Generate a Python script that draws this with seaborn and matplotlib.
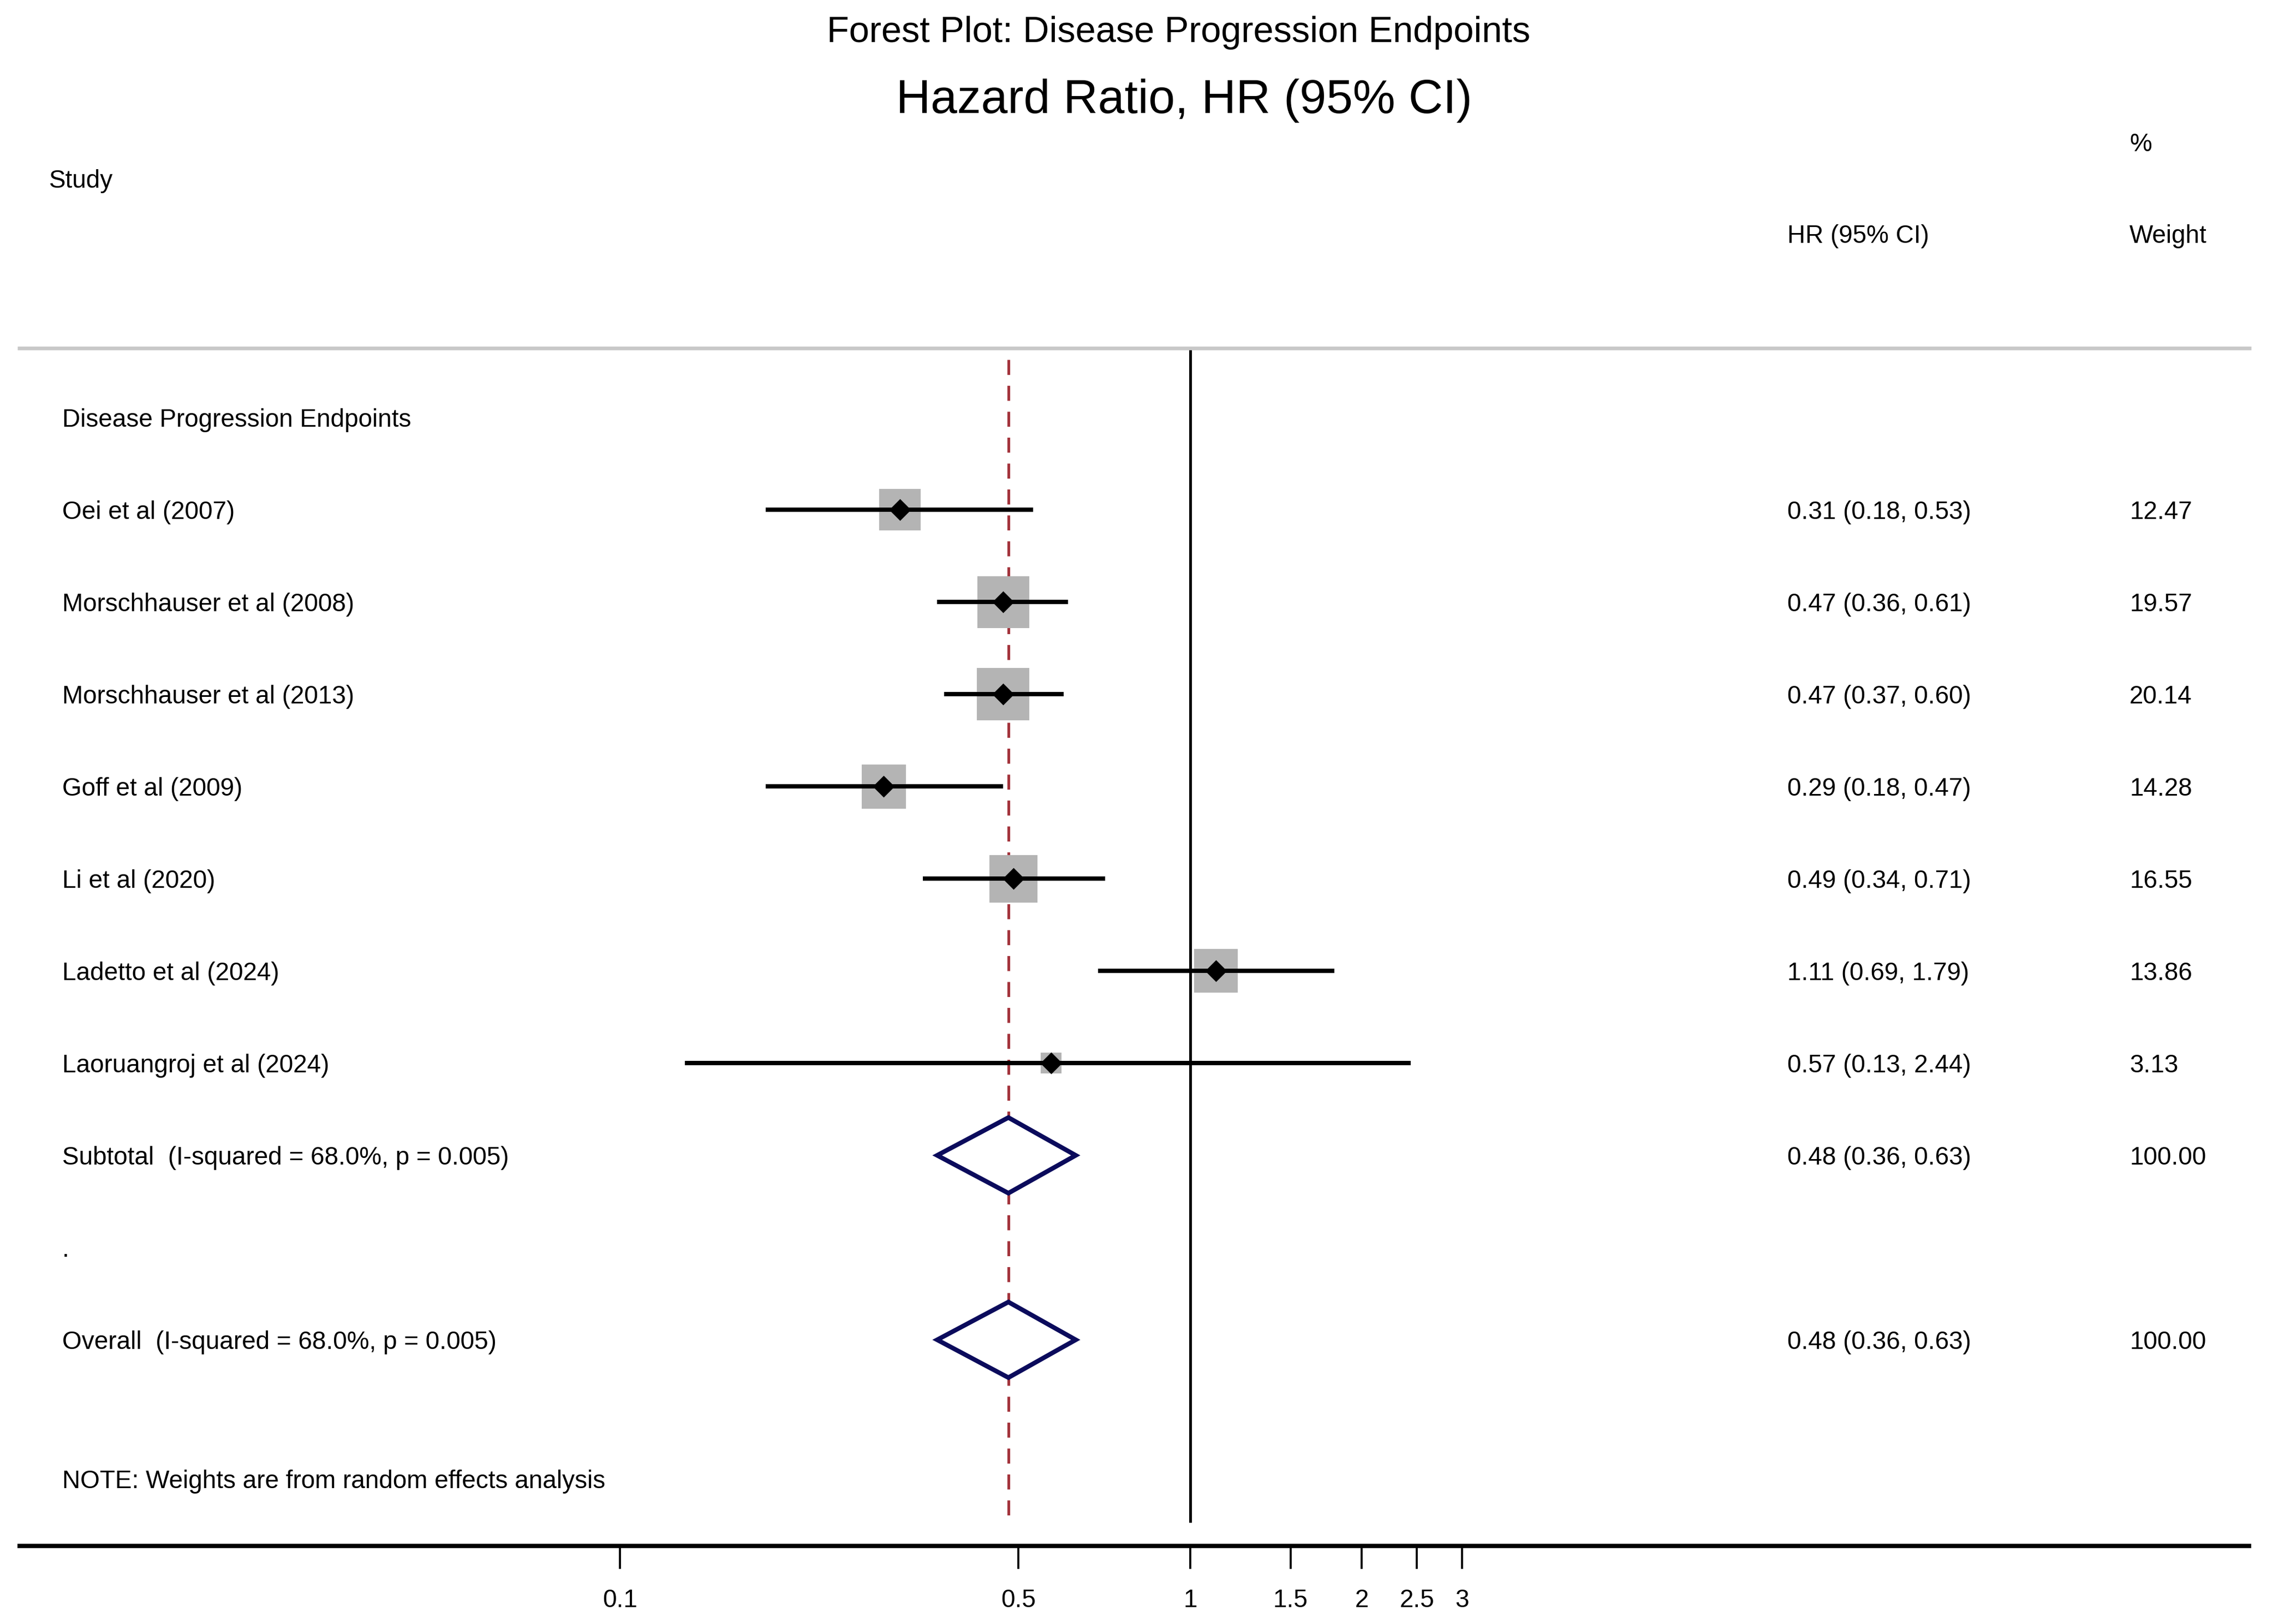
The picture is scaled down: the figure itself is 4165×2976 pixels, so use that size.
import numpy as np
import pandas as pd
import matplotlib
matplotlib.use("Agg")
import matplotlib.pyplot as plt
import seaborn as sns

# ---------------- data ----------------
studies = ["Oei et al (2007)", "Morschhauser et al (2008)", "Morschhauser et al (2013)",
           "Goff et al (2009)", "Li et al (2020)", "Ladetto et al (2024)",
           "Laoruangroj et al (2024)"]
hr = [0.31, 0.47, 0.47, 0.29, 0.49, 1.11, 0.57]
lo = [0.18, 0.36, 0.37, 0.18, 0.34, 0.69, 0.13]
hi = [0.53, 0.61, 0.60, 0.47, 0.71, 1.79, 2.44]
weights = [12.47, 19.57, 20.14, 14.28, 16.55, 13.86, 3.13]

pooled_labels = ["Subtotal  (I-squared = 68.0%, p = 0.005)",
                 "Overall  (I-squared = 68.0%, p = 0.005)"]
pooled_hr = [0.48, 0.48]
pooled_lo = [0.36, 0.36]
pooled_hi = [0.63, 0.63]
pooled_weight = ["100.00", "100.00"]

tick_values = [0.1, 0.5, 1, 1.5, 2, 2.5, 3]
tick_labels = ["0.1", "0.5", "1", "1.5", "2", "2.5", "3"]

group_label = "Disease Progression Endpoints"
title1 = "Forest Plot: Disease Progression Endpoints"
title2 = "Hazard Ratio, HR (95% CI)"
note = "NOTE: Weights are from random effects analysis"

# ---------------- style ----------------
sns.set_theme(style="white")
plt.rcParams['font.family'] = ['Liberation Sans', 'DejaVu Sans']
plt.rcParams['text.color'] = 'black'

W, H, DPI = 4165, 2976, 300
PW, PH = 1568.0, 1120.0  # reference layout grid
fig = plt.figure(figsize=(W / DPI, H / DPI), dpi=DPI)
ax = fig.add_axes([0, 0, 1, 1])
ax.set_xscale("log")
PPL = 170.8  # grid px per ln unit
X1 = 821.0   # grid x of HR = 1
ax.set_xlim(np.exp(-X1 / PPL), np.exp((PW - X1) / PPL))
ROW0, DROW = 288.0, 63.6
ax.set_ylim((PH - ROW0) / DROW, -ROW0 / DROW)
ax.axis("off")


def gy(p):
    return (p - ROW0) / DROW


def gx(p):
    return p / PW


study_rows = list(range(1, len(studies) + 1))
pooled_rows = [8, 10]

df = pd.DataFrame({"study": studies, "hr": hr, "lo": lo, "hi": hi,
                   "weight": weights, "row": study_rows})

# weight squares (area proportional to weight)
k = 26.6
sns.scatterplot(data=df, x="hr", y="row", size="weight",
                sizes=(k * min(weights), k * max(weights)),
                marker="s", color="#b4b4b4", linewidth=0, legend=False,
                ax=ax, zorder=2)

# CI lines
ax.hlines(df["row"], df["lo"], df["hi"], color="black", lw=1.9, zorder=3)

# point estimates
sns.scatterplot(data=df, x="hr", y="row", marker="D", s=46, color="black",
                linewidth=0, legend=False, ax=ax, zorder=4)

# reference lines
ax.vlines(1, gy(240), gy(1050), color="black", lw=1.2, zorder=1)
ax.vlines(pooled_hr[-1], gy(248), gy(1050), color="#a3343c", lw=1.2,
          linestyles=(0, (5.5, 4)), zorder=1)

# pooled diamonds
half_h = 0.41
for r, e, l, h in zip(pooled_rows, pooled_hr, pooled_lo, pooled_hi):
    ax.fill([l, e, h, e, l], [r, r - half_h, r, r + half_h, r],
            facecolor="white", edgecolor="#0b0b5c", lw=2.0, zorder=5,
            joinstyle="miter")

# horizontal rules
trans = ax.get_yaxis_transform()  # x in axes fraction, y in data
ax.plot([gx(12), gx(1553)], [gy(240), gy(240)], transform=trans,
        color="#c8c8c8", lw=1.6, solid_capstyle="butt")
ax.plot([gx(12), gx(1553)], [gy(1066), gy(1066)], transform=trans,
        color="black", lw=1.9, solid_capstyle="butt")

# x ticks
ax.vlines(tick_values, gy(1066), gy(1082), color="black", lw=0.9)
for v, t in zip(tick_values, tick_labels):
    ax.text(v, gy(1102), t, ha="center", va="center_baseline", fontsize=11)

fs = 11
VA = "center_baseline"
xl = gx(43)
xhr = gx(1233)
xw = gx(1469)

# titles & headers
ax.text(gx(813), gy(20), title1, transform=trans, ha="center", va=VA, fontsize=16)
ax.text(gx(817), gy(66), title2, transform=trans, ha="center", va=VA, fontsize=21)
ax.text(gx(34), gy(123), "Study", transform=trans, ha="left", va=VA, fontsize=fs)
ax.text(xw, gy(98), "%", transform=trans, ha="left", va=VA, fontsize=fs)
ax.text(xhr, gy(161), "HR (95% CI)", transform=trans, ha="left", va=VA, fontsize=fs)
ax.text(xw, gy(161), "Weight", transform=trans, ha="left", va=VA, fontsize=fs)

# row texts
ax.text(xl, 0, group_label, transform=trans, ha="left", va=VA, fontsize=fs)
for r, s, e, l, h, w in zip(study_rows, studies, hr, lo, hi, weights):
    ax.text(xl, r, s, transform=trans, ha="left", va=VA, fontsize=fs)
    ax.text(xhr, r, f"{e:.2f} ({l:.2f}, {h:.2f})", transform=trans,
            ha="left", va=VA, fontsize=fs)
    ax.text(xw, r, f"{w:.2f}", transform=trans, ha="left", va=VA, fontsize=fs)

for r, s, e, l, h, w in zip(pooled_rows, pooled_labels, pooled_hr, pooled_lo,
                            pooled_hi, pooled_weight):
    ax.text(xl, r, s, transform=trans, ha="left", va=VA, fontsize=fs)
    ax.text(xhr, r, f"{e:.2f} ({l:.2f}, {h:.2f})", transform=trans,
            ha="left", va=VA, fontsize=fs)
    ax.text(xw, r, w, transform=trans, ha="left", va=VA, fontsize=fs)

ax.text(xl, 9, ".", transform=trans, ha="left", va=VA, fontsize=fs)
ax.text(xl, gy(1020), note, transform=trans, ha="left", va=VA, fontsize=fs)

fig.savefig("out.png", dpi=DPI, facecolor="white")
